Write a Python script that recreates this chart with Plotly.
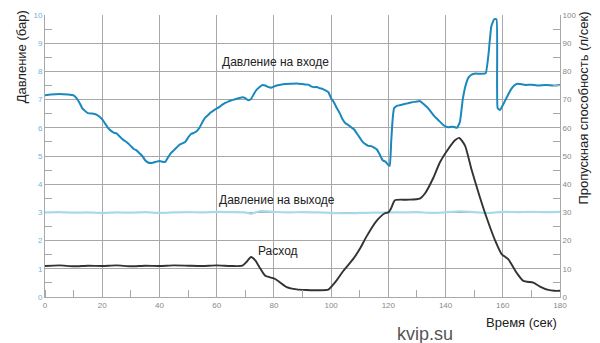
import plotly.graph_objects as go

# Inlet pressure (bar)
t_in = [0, 2, 5, 8, 10, 11, 12, 13, 14, 15, 17, 18, 20, 21, 22, 23, 24, 25, 26, 27, 28, 29, 30, 31, 32, 33, 34, 35, 36, 37, 38, 39, 40, 41, 42, 43, 44, 45, 46, 47, 48, 49, 50, 51, 52, 53, 54, 55, 56, 57, 58, 59, 60, 61, 62, 63, 64, 65, 66, 67, 68, 69, 70, 71, 72, 73, 74, 75, 76, 77, 78, 79, 80, 81, 82, 84, 86, 88, 90, 92, 93, 94, 95, 96, 97, 98, 99, 100, 101, 102, 103, 104, 105, 106, 107, 108, 109, 110, 111, 112, 113, 114, 115, 116, 117, 118, 119, 120, 120.5, 121, 121.5, 122, 123, 124, 126, 128, 130, 131, 132, 133, 134, 135, 136, 137, 138, 139, 140, 141, 142, 143, 144, 145, 146, 147, 148, 149, 150, 152, 154, 155, 156, 157, 157.8, 158.2, 159, 160, 161, 162, 163, 164, 165, 166, 168, 170, 172, 175, 178, 180]
p_in = [7.15, 7.18, 7.2, 7.18, 7.15, 7.05, 6.9, 6.7, 6.6, 6.52, 6.5, 6.47, 6.3, 6.15, 6.0, 5.9, 5.83, 5.8, 5.7, 5.6, 5.53, 5.45, 5.35, 5.25, 5.2, 5.1, 5.0, 4.85, 4.77, 4.75, 4.77, 4.8, 4.82, 4.8, 4.79, 4.95, 5.1, 5.2, 5.3, 5.4, 5.45, 5.5, 5.65, 5.78, 5.82, 5.88, 6.0, 6.2, 6.36, 6.45, 6.55, 6.62, 6.68, 6.74, 6.82, 6.88, 6.93, 6.97, 7.0, 7.03, 7.06, 7.08, 7.05, 6.98, 7.02, 7.2, 7.35, 7.45, 7.52, 7.5, 7.45, 7.42, 7.46, 7.5, 7.52, 7.55, 7.56, 7.57, 7.55, 7.53, 7.47, 7.44, 7.45, 7.4, 7.38, 7.33, 7.27, 7.05, 6.9, 6.7, 6.52, 6.3, 6.16, 6.1, 6.02, 5.95, 5.8, 5.65, 5.5, 5.42, 5.36, 5.35, 5.3, 5.23, 5.05, 4.85, 4.8, 4.68, 4.65, 5.5, 6.3, 6.69, 6.78, 6.8, 6.85, 6.9, 6.93, 6.95, 6.87, 6.78, 6.68, 6.55, 6.42, 6.32, 6.22, 6.12, 6.05, 6.02, 6.04, 6.03, 6.0, 6.2, 7.0, 7.5, 7.78, 7.88, 7.92, 7.92, 7.93, 8.6, 9.6, 9.85, 9.85, 6.7, 6.63, 6.8, 7.0, 7.2, 7.38, 7.5, 7.56, 7.55, 7.52, 7.53, 7.5, 7.52, 7.5, 7.52]

# Outlet pressure (bar)
t_out = [0, 5, 10, 15, 20, 25, 30, 35, 40, 45, 50, 55, 60, 65, 70, 72, 75, 80, 85, 90, 95, 100, 105, 110, 115, 120, 125, 130, 135, 140, 145, 150, 155, 160, 165, 170, 175, 180]
p_out = [3.0, 3.01, 2.99, 3.0, 2.98, 3.0, 2.99, 3.01, 2.98, 3.0, 3.01, 3.0, 3.02, 3.01, 3.0, 2.95, 3.04, 3.02, 3.0, 3.01, 3.0, 2.98, 2.97, 2.98, 2.99, 3.0, 3.0, 3.01, 2.98, 3.0, 3.04, 3.01, 2.98, 3.02, 3.01, 3.02, 3.01, 3.02]

# Flow (l/s)
t_flow = [0, 5, 10, 15, 20, 25, 30, 35, 40, 45, 50, 55, 60, 65, 69, 70.5, 72, 73.5, 75, 77, 80, 81.5, 84.5, 88, 91.5, 96, 99, 100.2, 102, 104.3, 107.8, 110, 112.4, 115.9, 118.8, 120, 121, 122.3, 126.4, 131, 132.8, 135.7, 138, 141, 143.3, 144.8, 146.8, 149.1, 152, 154.4, 157.3, 159.6, 161.9, 164.9, 167.2, 170.7, 173, 175.9, 178, 180]
flow = [11, 11.2, 10.9, 11.1, 11.0, 11.2, 10.9, 11.1, 11.0, 11.2, 11.1, 11.0, 11.2, 11.0, 11.1, 12.5, 14.2, 13.0, 10.5, 7.5, 6.6, 5.7, 3.5, 2.7, 2.5, 2.4, 2.6, 3.8, 6.0, 9.3, 13.6, 17.0, 21.5, 27.0, 29.7, 30.0, 31.5, 34.3, 34.5, 34.9, 36.7, 42.2, 47.7, 52.6, 55.6, 56.4, 53.7, 45.1, 35.4, 28.0, 20.1, 15.2, 13.4, 8.5, 5.7, 5.1, 3.7, 2.5, 2.2, 2.2]

x_ticks = [0, 20, 40, 60, 80, 100, 120, 140, 160, 180]

fig = go.Figure()
fig.add_trace(go.Scatter(x=t_out, y=p_out, mode="lines", line=dict(color="#a9d9ec", width=2.2, shape="spline", smoothing=0.6), showlegend=False))
fig.add_trace(go.Scatter(x=t_in, y=p_in, mode="lines", line=dict(color="#1a87bd", width=2, shape="spline", smoothing=0.4), showlegend=False))
fig.add_trace(go.Scatter(x=t_flow, y=flow, mode="lines", yaxis="y2", line=dict(color="#333333", width=1.9, shape="spline", smoothing=0.6), showlegend=False))

grid = "#a8a8a8"
fig.update_layout(
    width=600, height=343,
    margin=dict(l=45, r=40, t=15, b=46),
    paper_bgcolor="white", plot_bgcolor="white",
    font=dict(family="Liberation Sans, Arial", color="#222"),
    xaxis=dict(range=[0, 180], tickvals=x_ticks, showgrid=True, gridcolor=grid, gridwidth=1,
               showline=True, linecolor=grid, linewidth=1, ticks="", zeroline=False,
               tickfont=dict(size=8, color="#888"),
               minor=dict(ticks="inside", dtick=10, tick0=0, ticklen=7, tickcolor=grid, showgrid=False)),
    yaxis=dict(range=[0, 10], dtick=1, showgrid=True, gridcolor=grid, gridwidth=1,
               showline=True, linecolor=grid, linewidth=1, ticks="", zeroline=False,
               tickfont=dict(size=8, color="#6db3d6"),
               minor=dict(ticks="inside", dtick=0.5, ticklen=7, tickcolor=grid, showgrid=False)),
    yaxis2=dict(range=[0, 100], dtick=10, overlaying="y", side="right", showgrid=False,
                showline=True, linecolor=grid, linewidth=1, ticks="", zeroline=False,
                tickfont=dict(size=8, color="#888"),
                minor=dict(ticks="inside", dtick=5, ticklen=7, tickcolor=grid)),
    annotations=[
        dict(text="Давление на входе", x=80.7, y=8.33, xref="x", yref="y", showarrow=False, font=dict(size=12, color="#222")),
        dict(text="Давление на выходе", x=81.1, y=3.45, xref="x", yref="y", showarrow=False, font=dict(size=12, color="#222")),
        dict(text="Расход", x=81.4, y=1.64, xref="x", yref="y", showarrow=False, font=dict(size=12, color="#222")),
        dict(text="Давление (бар)", x=-0.045, y=1.025, xref="paper", yref="paper", textangle=-90,
             xanchor="center", yanchor="top", showarrow=False, font=dict(size=13, color="#222")),
        dict(text="Пропускная способность (л/сек)", x=1.045, y=1.018, xref="paper", yref="paper", textangle=-90,
             xanchor="center", yanchor="top", showarrow=False, font=dict(size=13, color="#222")),
        dict(text="Время (сек)", x=0.926, y=-0.089, xref="paper", yref="paper",
             xanchor="center", yanchor="middle", showarrow=False, font=dict(size=13, color="#222")),
        dict(text="kvip.su", x=0.738, y=-0.131, xref="paper", yref="paper",
             xanchor="center", yanchor="middle", showarrow=False, font=dict(size=18, color="#555")),
    ],
)

fig.write_html("out.html")
